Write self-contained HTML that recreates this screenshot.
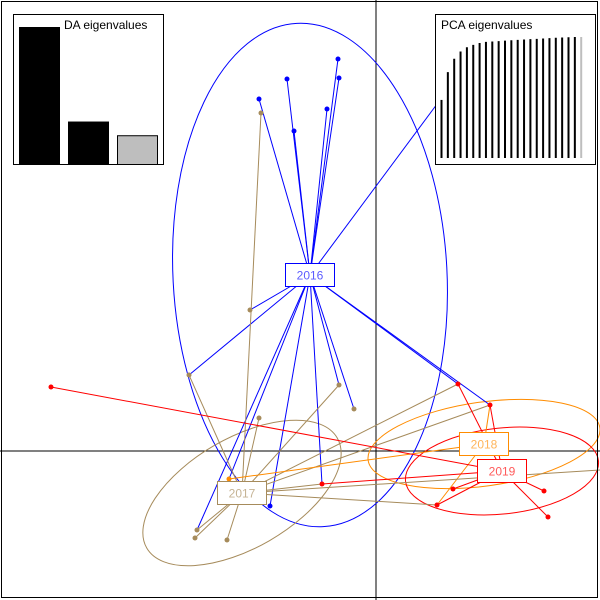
<!DOCTYPE html>
<html><head><meta charset="utf-8"><style>
html,body{margin:0;padding:0;background:#fff}
svg{display:block;font-family:"Liberation Sans",Arial,sans-serif}
</style></head><body>
<svg id="chart" width="600" height="600" viewBox="0 0 600 600">
<rect x="0" y="0" width="600" height="600" fill="#fff"/>
<g id="axes"></g><g id="ells"></g><g id="lines"></g><g id="pts"></g><g id="labels"></g><g id="insets"></g>
<rect x="1.5" y="1.5" width="596" height="596" fill="none" stroke="#000" stroke-width="1"/>
</svg>
<script>
// LD coordinates (1 unit = 50px, origin at axes crossing)
const groups = ["2016","2017","2018","2019"];
const groupColors = ["#0000ff","#a68b5b","#ff8c00","#ff0000"];
const centroidX = [-1.32,-2.68,2.16,2.52];
const centroidY = [3.52,-0.84,0.14,-0.40];
const ellRx = [2.74,2.2,2.34,1.94];
const ellRy = [5.04,1.1,0.84,0.86];
const ellAngle = [-3,-30,-8,-6];
// individuals: LD1, LD2, point colour group
const indX = [-2.34,-1.78,-1.64,-0.98,-0.76,-0.74,1.28,-3.74,-2.52,-3.58,-2.94,-2.12,-1.08,-0.74,-0.44,1.64,2.28,-2.30,-3.62,-2.98,-2.34,1.22,1.54,3.36,3.44,-6.50];
const indY = [7.04,7.44,6.40,6.84,7.84,7.46,7.02,1.52,2.82,-1.58,-0.56,-1.10,-0.66,1.32,0.84,1.34,0.92,6.76,-1.74,-1.78,0.66,-1.08,-0.76,-0.80,-1.32,1.28];
const indColor = [0,0,0,0,0,0,0,1,1,1,2,0,3,1,1,3,3,1,1,1,1,3,3,3,3,3];
// links: centroid group -> individual index
const linkGroup = [0,0,0,0,0,0,0,0,0,0,0,0,0,0,0,0,0, 1,1,1,1,1,1,1,1,1,1,1, 2,2,2, 3,3,3,3,3,3,3,3];
const linkInd   = [0,1,2,3,4,5,6,7,8,9,10,11,12,13,14,15,16, 17,7,9,18,19,20,13,15,16,21,12, 10,16,21, 25,15,16,12,21,22,23,24];
const daEig = [100,31,21];
const pcaCum = [48,71,82,88,91.5,93.5,95,96,96.3,96.6,97,97.3,97.6,97.9,98.2,98.5,98.8,99.1,99.4,99.6,99.8,100,100];

const NS="http://www.w3.org/2000/svg";
const X0=376,Y0=451,S=50;
const sx=v=>X0+v*S, sy=v=>Y0-v*S;
function mk(tag,attrs,parent){const e=document.createElementNS(NS,tag);for(const k in attrs)e.setAttribute(k,attrs[k]);parent.appendChild(e);return e;}
const axes=document.getElementById('axes');
let a=mk('line',{x1:0,y1:Y0,x2:600,y2:Y0,stroke:'#000','stroke-width':1},axes);


a=mk('line',{x1:X0,y1:0,x2:X0,y2:600,stroke:'#000','stroke-width':1},axes);


const ells=document.getElementById('ells');
groups.forEach((g,i)=>{
  const e=mk('ellipse',{cx:sx(centroidX[i]),cy:sy(centroidY[i]),rx:ellRx[i]*S,ry:ellRy[i]*S,fill:'none',stroke:groupColors[i],'stroke-width':1,transform:`rotate(${ellAngle[i]} ${sx(centroidX[i])} ${sy(centroidY[i])})`},ells);
  
  
});
const lines=document.getElementById('lines'),pts=document.getElementById('pts');
linkGroup.forEach((g,k)=>{
  const i=linkInd[k];
  const l=mk('line',{x1:sx(centroidX[g]),y1:sy(centroidY[g]),x2:sx(indX[i]),y2:sy(indY[i]),stroke:groupColors[g],'stroke-width':1},lines);
  
  
});
// extra brown link leaving the plot to the right
const ex=mk('line',{x1:sx(centroidX[1]),y1:sy(centroidY[1]),x2:600,y2:470,stroke:groupColors[1],'stroke-width':1},lines);


indX.forEach((v,i)=>{
  const c=mk('circle',{cx:sx(v),cy:sy(indY[i]),r:2.5,fill:groupColors[indColor[i]]},pts);
  
  
});
const labels=document.getElementById('labels');
groups.forEach((g,i)=>{
  const gg=mk('g',{},labels);
  
  
  const cx=sx(centroidX[i]),cy=sy(centroidY[i]);
  mk('rect',{x:cx-24.5,y:cy-11.5,width:49,height:23,fill:'#fff',stroke:groupColors[i],'stroke-width':1},gg);
  const t=mk('text',{x:cx,y:cy+4.5,'text-anchor':'middle','font-size':12,fill:groupColors[i],'fill-opacity':0.65},gg);
  t.textContent=g;
});
const ins=document.getElementById('insets');
let gd=mk('g',{},ins);


mk('rect',{x:13.5,y:14.5,width:150,height:150,fill:'#fff',stroke:'#000'},gd);
daEig.forEach((v,i)=>{
  const h=v/100*137;
  const b=mk('rect',{x:19.5+i*49,y:164.5-h,width:40,height:h,fill:i==2?'#bebebe':'#000',stroke:'#000'},gd);
  
  
});
let t=mk('text',{x:64,y:29,'font-size':12,fill:'#000'},gd);t.textContent='DA eigenvalues';
let gp=mk('g',{},ins);


mk('rect',{x:435.5,y:14.5,width:160,height:150,fill:'#fff',stroke:'#000'},gp);
pcaCum.forEach((v,i)=>{
  const top=158-(v/100*121);
  const b=mk('line',{x1:441.5+i*6.35,y1:158,x2:441.5+i*6.35,y2:top,stroke:i==pcaCum.length-1?'#bebebe':'#000','stroke-width':2},gp);
  
  
});
t=mk('text',{x:441,y:29,'font-size':12,fill:'#000'},gp);t.textContent='PCA eigenvalues';
</script>
</body></html>
